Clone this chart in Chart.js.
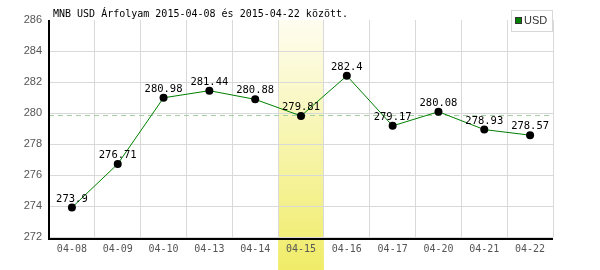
<!DOCTYPE html>
<html>
<head>
<meta charset="utf-8">
<script src="https://cdn.jsdelivr.net/npm/chart.js@4"></script>
<style>
  html, body { margin: 0; padding: 0; background: #fff; }
  canvas { display: block; }
</style>
</head>
<body>
<canvas id="rateChart" width="600" height="270"></canvas>
<script>
const dayLabels = ['04-08', '04-09', '04-10', '04-13', '04-14', '04-15', '04-16', '04-17', '04-20', '04-21', '04-22']
const usdRates = [273.9, 276.71, 280.98, 281.44, 280.88, 279.81, 282.4, 279.17, 280.08, 278.93, 278.57]
const yMin = 272
const yMax = 286
const yStep = 2
const highlightIndex = 5
const referenceRate = 279.87
const titleText = 'MNB USD Árfolyam 2015-04-08 és 2015-04-22 között.'
const seriesName = 'USD'

const monoFont = '"DejaVu Sans Mono", monospace'
const sansFont = '"Liberation Sans", Arial, sans-serif'

// yellow band behind the selected day + white background
const bandPlugin = {
    id: 'band',
    beforeDraw(chart) {
        const { ctx, chartArea, scales } = chart
        ctx.save()
        ctx.fillStyle = '#fff'
        ctx.fillRect(0, 0, chart.width, chart.height)
        const half = (scales.x.getPixelForValue(1) - scales.x.getPixelForValue(0)) / 2
        const cx = scales.x.getPixelForValue(highlightIndex)
        const grad = ctx.createLinearGradient(0, chartArea.top, 0, chart.height)
        grad.addColorStop(0, '#fefdf0')
        grad.addColorStop(1, '#f0ec68')
        ctx.fillStyle = grad
        ctx.fillRect(cx - half, chartArea.top, half * 2, chart.height - chartArea.top)
        ctx.restore()
    },
    beforeDatasetsDraw(chart) {
        const { ctx, chartArea, scales } = chart
        const y = Math.round(scales.y.getPixelForValue(referenceRate)) + 0.5
        ctx.save()
        ctx.strokeStyle = '#a3cfa3'
        ctx.lineWidth = 1
        ctx.setLineDash([5, 4])
        ctx.beginPath()
        ctx.moveTo(chartArea.left, y)
        ctx.lineTo(chartArea.right, y)
        ctx.stroke()
        ctx.setLineDash([])
        // axes
        ctx.strokeStyle = '#000'
        ctx.lineWidth = 2
        ctx.beginPath()
        ctx.moveTo(chartArea.left, chartArea.top)
        ctx.lineTo(chartArea.left, chartArea.bottom + 2)
        ctx.lineTo(chartArea.right, chartArea.bottom + 2)
        ctx.stroke()
        ctx.restore()
    },
    afterDatasetsDraw(chart) {
        const { ctx } = chart
        const meta = chart.getDatasetMeta(0)
        ctx.save()
        ctx.font = '10.5px ' + monoFont
        ctx.fillStyle = '#000'
        ctx.textAlign = 'center'
        ctx.textBaseline = 'alphabetic'
        meta.data.forEach((pt, i) => {
            ctx.fillText(String(usdRates[i]), pt.x, pt.y - 6)
        })
        ctx.restore()
    },
    afterDraw(chart) {
        const { ctx } = chart
        ctx.save()
        ctx.font = '10px ' + monoFont
        ctx.fillStyle = '#000'
        ctx.textAlign = 'left'
        ctx.fillText(titleText, 53, 17)
        // legend box
        ctx.fillStyle = '#fff'
        ctx.fillRect(511, 10, 41, 21)
        ctx.strokeStyle = '#d8d8d8'
        ctx.lineWidth = 1
        ctx.strokeRect(511.5, 10.5, 41, 21)
        ctx.fillStyle = '#008000'
        ctx.fillRect(515, 17, 7, 7)
        ctx.strokeStyle = '#333'
        ctx.strokeRect(515.5, 17.5, 6, 6)
        ctx.font = '11px ' + sansFont
        ctx.fillStyle = '#333'
        ctx.textBaseline = 'middle'
        ctx.fillText(seriesName, 524, 21)
        ctx.restore()
    }
}

new Chart(document.getElementById('rateChart'), {
    type: 'line',
    data: {
        labels: dayLabels,
        datasets: [{
            label: seriesName,
            data: usdRates,
            borderColor: '#008000',
            borderWidth: 1,
            pointRadius: 4,
            pointBackgroundColor: '#000',
            pointBorderColor: '#000',
            pointBorderWidth: 0,
            tension: 0
        }]
    },
    options: {
        responsive: false,
        animation: false,
        devicePixelRatio: 1,
        layout: { padding: { top: 20, right: 47, left: 0, bottom: 0 } },
        plugins: {
            legend: { display: false },
            tooltip: { enabled: false }
        },
        scales: {
            x: {
                offset: true,
                grid: { offset: true, color: '#d9d9d9', drawTicks: false },
                border: { display: false },
                ticks: { font: { family: monoFont, size: 10 }, color: '#555', padding: 6, maxRotation: 0 },
                afterFit: s => { s.height = 33 }
            },
            y: {
                min: yMin,
                max: yMax,
                grid: {
                    color: c => c.tick && c.tick.value === yMax ? 'rgba(0,0,0,0)' : '#d9d9d9',
                    drawTicks: false
                },
                border: { display: false },
                ticks: { stepSize: yStep, font: { family: sansFont, size: 11 }, color: '#555', padding: 7 },
                afterFit: s => { s.width = 49 }
            }
        }
    },
    plugins: [bandPlugin]
})
</script>
</body>
</html>
